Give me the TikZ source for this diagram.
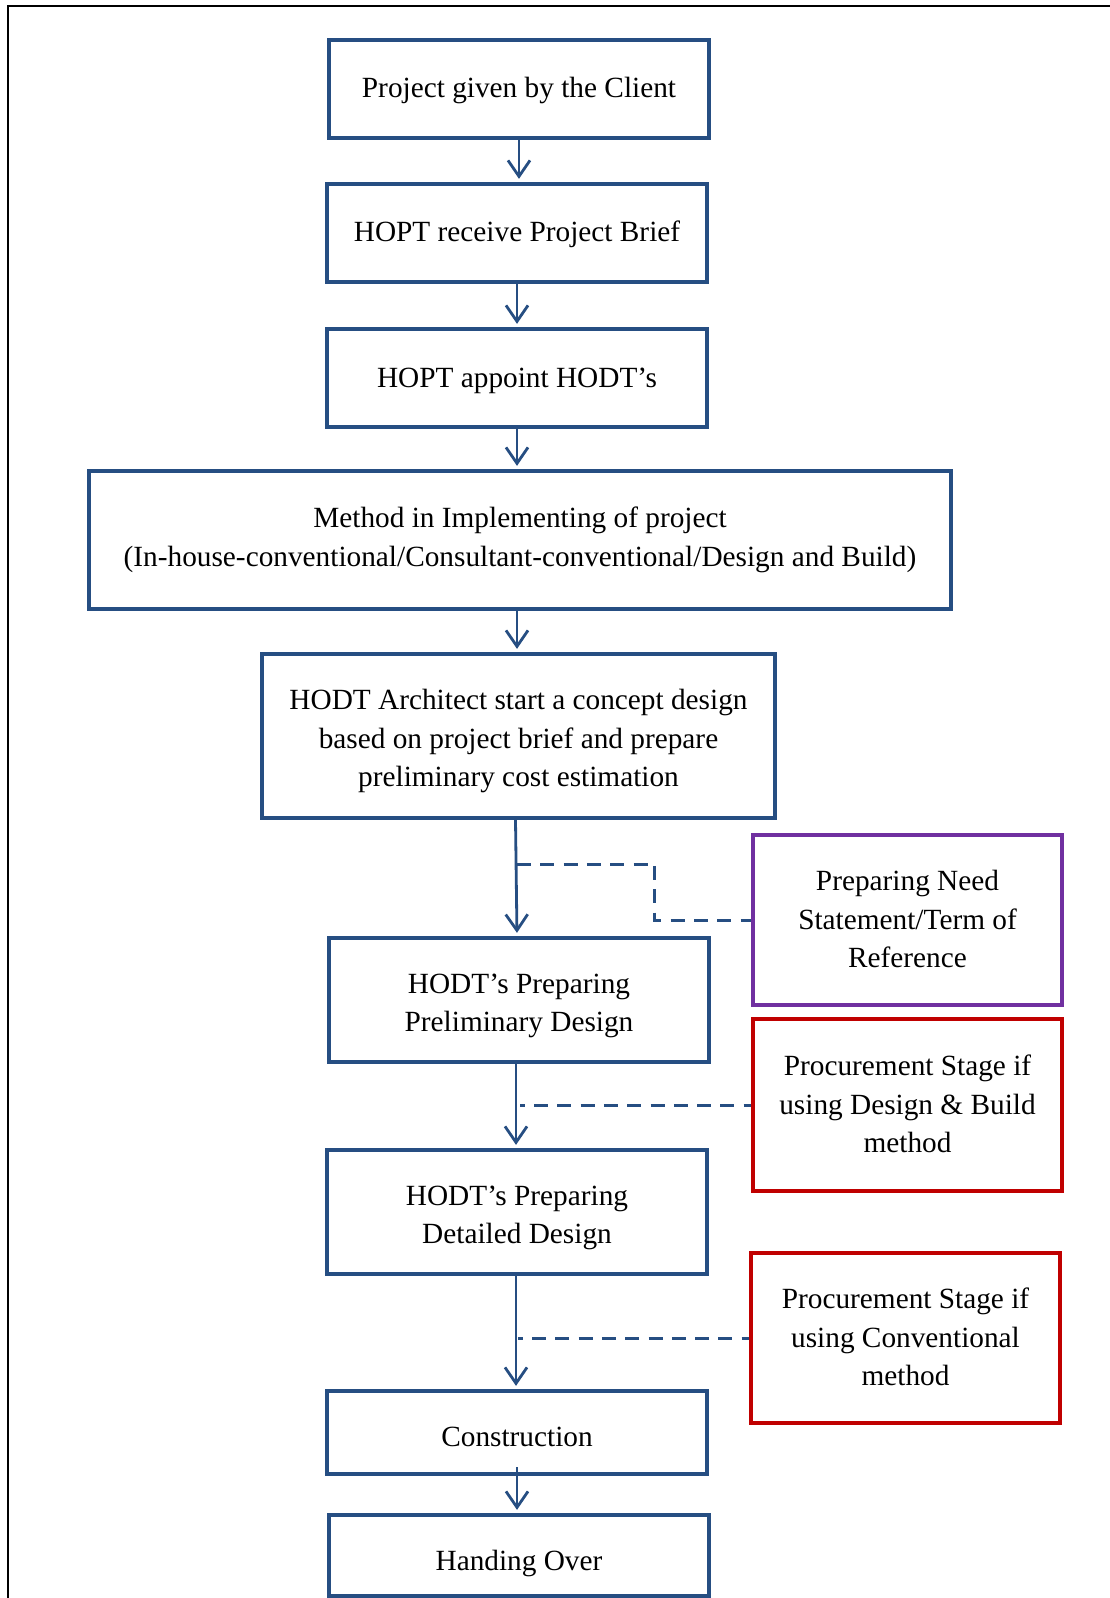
\documentclass[tikz,border=0pt]{standalone}
\usepackage{fontspec}
\setmainfont{Liberation Serif}
\usetikzlibrary{arrows.meta}
\definecolor{fblue}{RGB}{38,78,130}
\definecolor{fpurple}{RGB}{112,48,160}
\definecolor{fred}{RGB}{192,0,0}
\tikzset{
  flowbox/.style={draw=fblue, line width=4.3pt, rectangle, inner sep=0pt},
  sidebox/.style={flowbox, draw=#1},
  boxtext/.style={align=center, inner sep=0pt, font=\fontsize{29.3}{38.7}\selectfont},
  flowarrow/.style={draw=fblue, line width=2.8pt, -{Straight Barb[length=16pt,width=22pt,line width=2.8pt]}, shorten >=3pt},
  dashlink/.style={draw=fblue, line width=3pt, dash pattern=on 14pt off 9.3pt, dash phase=9.3pt}
}
\begin{document}
\begin{tikzpicture}[x=1pt,y=-1pt]
\useasboundingbox (0,0) rectangle (1109,1598);
\draw[line width=2pt] (8,1600) -- (8,6) -- (1110,6);

\node[flowbox, minimum width=380pt, minimum height=98pt,
  label={[boxtext, name=t1, yshift=-1pt]center:Project given by the Client}] (p1) at (519,89) {};
\node[flowbox, minimum width=380pt, minimum height=98pt,
  label={[boxtext, name=t2, yshift=-1pt]center:HOPT receive Project Brief}] (p2) at (517,233) {};
\node[flowbox, minimum width=380pt, minimum height=98pt,
  label={[boxtext, name=t3, yshift=-3pt]center:HOPT appoint HODT’s}] (p3) at (517,378) {};
\node[flowbox, minimum width=862pt, minimum height=138pt,
  label={[boxtext, name=t4]center:{Method in Implementing of project\\(In-house-conventional/Consultant-conventional/Design and Build)}}] (p4) at (520,540) {};
\node[flowbox, minimum width=513pt, minimum height=164pt,
  label={[boxtext, name=t5, yshift=-5pt]center:{HODT Architect start a concept design\\based on project brief and prepare\\preliminary cost estimation}}] (p5) at (518.5,736) {};
\node[flowbox, minimum width=380pt, minimum height=124pt,
  label={[boxtext, name=t6, yshift=-6pt]center:{HODT’s Preparing\\Preliminary Design}}] (p6) at (519,1000) {};
\node[flowbox, minimum width=380pt, minimum height=124pt,
  label={[boxtext, name=t7, yshift=-6pt]center:{HODT’s Preparing\\Detailed Design}}] (p7) at (517,1212) {};
\node[flowbox, minimum width=380pt, minimum height=83pt,
  label={[boxtext, name=t8, yshift=-4pt]center:Construction}] (p8) at (517,1432.5) {};
\node[flowbox, minimum width=380pt, minimum height=81pt,
  label={[boxtext, name=t9, yshift=-8pt]center:Handing Over}] (p9) at (519,1555.5) {};

\node[sidebox=fpurple, minimum width=309pt, minimum height=170pt,
  label={[boxtext, name=tn, yshift=1pt]center:{Preparing Need\\Statement/Term of\\Reference}}] (need) at (907.5,920) {};
\node[sidebox=fred, minimum width=309pt, minimum height=172pt,
  label={[boxtext, name=tr1, yshift=1pt]center:{Procurement Stage if\\using Design \& Build\\method}}] (proc1) at (907.5,1105) {};
\node[sidebox=fred, minimum width=309pt, minimum height=170pt,
  label={[boxtext, name=tr2, yshift=1pt]center:{Procurement Stage if\\using Conventional\\method}}] (proc2) at (905.5,1338) {};

\draw[flowarrow] (p1.south) -- (p1.south |- p2.north);
\draw[flowarrow] (p2.south) -- (p2.south |- p3.north);
\draw[flowarrow] (p3.south) -- (p3.south |- p4.north);
\draw[flowarrow] (p4.south -| p3.south) -- (p3.south |- p5.north);
\draw[flowarrow] ([xshift=-3pt]p5.south) -- ([xshift=-2pt]p6.north);
\draw[flowarrow] ([xshift=-3pt]p6.south) -- ([xshift=-1pt]p7.north);
\draw[flowarrow] ([xshift=-1pt]p7.south) -- ([xshift=-1pt]p8.north);
\draw[flowarrow] ([yshift=9pt]p8.south) -- (p8.south |- p9.north);

\coordinate (n1) at (517,864);
\draw[dashlink, dash phase=0pt] (n1) -| ([xshift=-96pt]need.west) -- (need.west);
\draw[dashlink] ([xshift=1pt]p6.south |- proc1.west) -- (proc1.west);
\draw[dashlink] ([xshift=1pt]p7.south |- proc2.west) -- (proc2.west);
\end{tikzpicture}
\end{document}
